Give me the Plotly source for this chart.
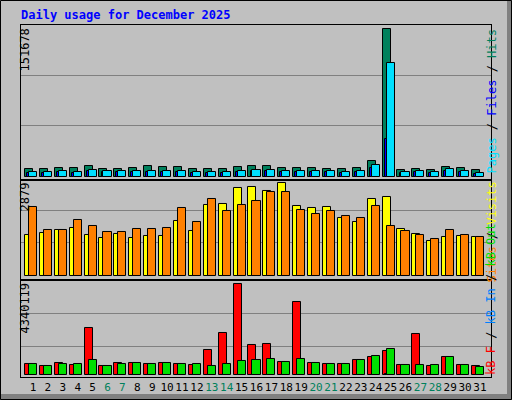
import plotly.graph_objects as go

days = list(range(1, 32))
weekends = [6, 7, 13, 14, 20, 21, 27, 28]

hits = [8540, 8540, 9570, 9570, 11620, 8540, 8540, 9570, 11620, 10590, 10590, 8540, 8540, 8540,
        10590, 11620, 11620, 9570, 9570, 9570, 8540, 8540, 9570, 16740, 151678, 7520, 8540, 7520,
        10590, 9570, 7520]
files = [4400, 4400, 5400, 4400, 6400, 5400, 5400, 5400, 5400, 5400, 5400, 4400, 4400, 4400,
         5400, 6400, 6400, 5400, 5400, 5400, 5400, 4400, 5400, 8900, 38950, 4400, 5400, 4400,
         6400, 5400, 3400]
pages = [5470, 5470, 6490, 5470, 7520, 6490, 6490, 6490, 6490, 6490, 6490, 5470, 5470, 5470,
         6490, 7520, 7520, 6490, 6490, 6490, 6490, 5470, 6490, 12640, 117200, 5470, 6490, 5470,
         8540, 6490, 4440]
visits = [1277, 1340, 1434, 1497, 1277, 1183, 1309, 1183, 1246, 1246, 1717, 1403, 2220, 2251,
          2722, 2754, 2628, 2879, 2188, 2125, 2157, 1811, 1686, 2408, 2440, 1466, 1309, 1089,
          1214, 1246, 1214]
sites = [2157, 1434, 1434, 1748, 1560, 1372, 1372, 1466, 1466, 1497, 2125, 1686, 2408, 2031,
         2220, 2345, 2596, 2596, 2063, 1937, 2031, 1874, 1811, 2188, 1560, 1403, 1277, 1152,
         1434, 1277, 1214]
kb_f = [524600, 429200, 572300, 476900, 2241600, 429200, 572300, 572300, 524600, 572300, 524600,
        476900, 1192300, 2003200, 4340119, 1430800, 1478500, 620000, 3481700, 572300, 524600,
        524600, 715400, 858500, 1144700, 476900, 1955500, 429200, 858500, 476900, 429200]
kb_in = [0] * 24 + [60000] + [0] * 6
kb_out = [524600, 429200, 524600, 524600, 715400, 429200, 524600, 572300, 524600, 572300, 524600,
          524600, 429200, 524600, 667700, 715400, 763100, 620000, 763100, 572300, 524600, 524600,
          715400, 906200, 1239900, 476900, 476900, 476900, 858500, 476900, 381500]

GREEN = "#00805c"
GRAY = "#c0c0c0"
GRID = "#808080"
FONT = "DejaVu Sans Mono"
BW = 0.54


def bars(vals, color, off, xa, ya):
    return go.Bar(x=[d + off for d in days], y=vals, width=BW, marker=dict(
        color=color, line=dict(color="black", width=1)), xaxis=xa, yaxis=ya,
        showlegend=False, hoverinfo="skip")


fig = go.Figure([
    bars(hits, GREEN, -0.27, "x", "y"),
    bars(files, "#0000ff", -0.13, "x", "y"),
    bars(pages, "#00e0ff", 0.0, "x", "y"),
    bars(visits, "#ffff00", -0.27, "x2", "y2"),
    bars(sites, "#ff8000", 0.0, "x2", "y2"),
    bars(kb_f, "#ff0000", -0.27, "x3", "y3"),
    bars(kb_in, "#0000ff", -0.13, "x3", "y3"),
    bars(kb_out, "#00e000", 0.0, "x3", "y3"),
])

xr = [0.195, 31.74]
xcommon = dict(range=xr, showgrid=False, zeroline=False, showline=True, linecolor="black",
               mirror=True, linewidth=1, fixedrange=True, automargin=False)
ycommon = dict(showgrid=True, gridcolor=GRID, gridwidth=1, zeroline=False, showline=True,
               linecolor="black", mirror=True, linewidth=1, showticklabels=False, ticks="",
               automargin=False)

ticktext = [f'<span style="color:{GREEN if d in weekends else "black"}">{d}</span>' for d in days]

fig.update_layout(
    width=512, height=400, barmode="overlay",
    paper_bgcolor=GRAY, plot_bgcolor=GRAY,
    margin=dict(l=21, r=21, t=25, b=23, autoexpand=False),
    font=dict(family=FONT, size=11, color="black"),
    xaxis=dict(xcommon, anchor="y", showticklabels=False, domain=[0, 1]),
    xaxis2=dict(xcommon, anchor="y2", showticklabels=False, domain=[0, 1]),
    xaxis3=dict(xcommon, anchor="y3", tickvals=days, ticktext=ticktext, ticks="",
                tickangle=0, tickfont=dict(size=11), domain=[0, 1]),
    yaxis=dict(ycommon, domain=[0.5597, 1], range=[-3075, 155800], tickvals=[52275, 104550]),
    yaxis2=dict(ycommon, domain=[0.2756, 0.5597], range=[-126, 2983], tickvals=[1024, 2048]),
    yaxis3=dict(ycommon, domain=[0, 0.2756], range=[-81000, 4545000],
                tickvals=[1383000, 2957000]),
    bargap=0,
)


def px_x(px):
    return (px - 21) / 470


def px_y(py):
    return (377 - py) / 352


shapes = [
    dict(type="rect", xref="paper", yref="paper", x0=px_x(507), x1=px_x(512), y0=px_y(0),
         y1=px_y(400), fillcolor="#808080", line=dict(width=0), layer="below"),
    dict(type="rect", xref="paper", yref="paper", x0=px_x(0), x1=px_x(512), y0=px_y(394),
         y1=px_y(400), fillcolor="#808080", line=dict(width=0), layer="below"),
    dict(type="rect", xref="paper", yref="paper", x0=px_x(0.5), x1=px_x(511.5), y0=px_y(0.5),
         y1=px_y(399.5), line=dict(color="black", width=1)),
]
fig.update_layout(shapes=shapes)

ann = [
    dict(text="<b>Daily usage for December 2025</b>", x=px_x(19), y=px_y(15), xanchor="left",
         yanchor="middle", font=dict(color="#0000ff", size=12)),
    dict(text="151678", x=px_x(15), y=px_y(27), textangle=-90, yanchor="top", font=dict(size=12)),
    dict(text="2879", x=px_x(15), y=px_y(181), textangle=-90, yanchor="top", font=dict(size=12)),
    dict(text="4340119", x=px_x(15), y=px_y(281), textangle=-90, yanchor="top", font=dict(size=12)),
    dict(text='<span style="color:#00e0ff">Pages</span> / <span style="color:#0000ff">Files</span>'
              f' / <span style="color:{GREEN}">Hits</span>',
         x=px_x(500), y=px_y(27), textangle=-90, yanchor="top", font=dict(size=12)),
    dict(text='<span style="color:#ff8000">Sites</span> / <span style="color:#ffff00">Visits</span>',
         x=px_x(500), y=px_y(180), textangle=-90, yanchor="top", font=dict(size=12)),
    dict(text='<span style="color:#ff0000">kB F</span> / <span style="color:#0080ff">kB In</span>'
              ' / <span style="color:#00e000">kB Out</span>',
         x=px_x(500), y=px_y(377), textangle=-90, yanchor="bottom", font=dict(size=12)),
]
for a in ann:
    a.update(xref="paper", yref="paper", showarrow=False)
fig.update_layout(annotations=ann)

fig.write_html("out.html", config={"displayModeBar": False},
               post_script="document.body.style.margin='0';")
